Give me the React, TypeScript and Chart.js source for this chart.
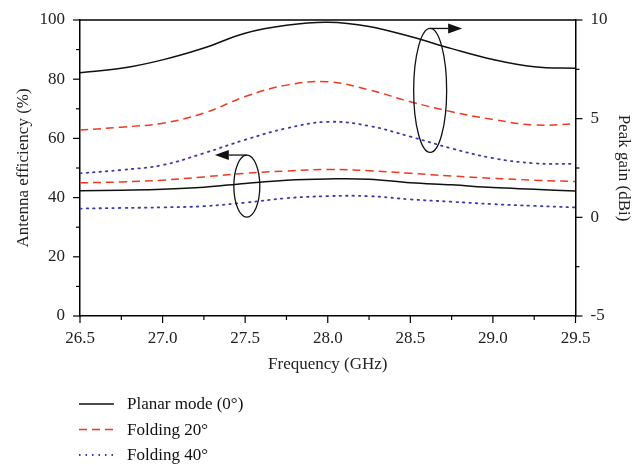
import React, { useEffect, useRef } from "react";
import { Chart, registerables } from "chart.js";

Chart.register(...registerables);

// ---- data ----
const frequencies = [26.5, 26.75, 27.0, 27.25, 27.5, 27.75, 28.0, 28.25, 28.5, 28.75, 29.0, 29.25, 29.5];
const effPlanar = [42.3, 42.5, 42.8, 43.5, 44.8, 45.9, 46.3, 46.2, 45.0, 44.3, 43.4, 42.8, 42.2];
const effFold20 = [45.0, 45.3, 45.9, 47.0, 48.2, 49.0, 49.5, 49.1, 48.2, 47.3, 46.5, 45.9, 45.4];
const effFold40 = [36.3, 36.5, 36.7, 37.1, 38.3, 39.8, 40.5, 40.5, 39.4, 38.6, 37.8, 37.2, 36.7];
const gainPlanar = [7.33, 7.55, 7.98, 8.58, 9.33, 9.73, 9.88, 9.67, 9.16, 8.55, 8.0, 7.63, 7.55];
const gainFold20 = [4.42, 4.57, 4.77, 5.28, 6.12, 6.7, 6.87, 6.46, 5.86, 5.35, 4.96, 4.68, 4.74];
const gainFold40 = [2.23, 2.4, 2.65, 3.25, 3.93, 4.51, 4.84, 4.63, 4.09, 3.49, 3.0, 2.74, 2.71];
const seriesLabels = ["Planar mode (0°)", "Folding 20°", "Folding 40°"];

const xTitle = "Frequency (GHz)";
const yTitle = "Antenna efficiency (%)";
const y1Title = "Peak gain (dBi)";

const FONT = "'Liberation Serif', 'DejaVu Serif', serif";
const COLORS = ["#111111", "#ee3a22", "#3a3aaa"];
const DASHES = [[], [8, 5], [1.5, 5]];

const toPts = (ys: number[]) => ys.map((y, i) => ({ x: frequencies[i], y }));

const isMult = (v: number, m: number) => Math.abs(v / m - Math.round(v / m)) < 1e-6;

const axisTicksPlugin = {
  id: "axisTicks",
  afterDraw(chart: any) {
    const ctx = chart.ctx;
    const ca = chart.chartArea;
    ctx.save();
    ctx.strokeStyle = "#000";
    // top border
    ctx.beginPath();
    ctx.moveTo(ca.left, ca.top);
    ctx.lineTo(ca.right, ca.top);
    ctx.lineWidth = 1.5;
    ctx.stroke();
    ctx.lineWidth = 1.2;
    const sx = chart.scales.x;
    sx.ticks.forEach((t: any) => {
      const px = sx.getPixelForValue(t.value);
      const len = isMult(t.value, 0.5) ? 7 : 4;
      ctx.beginPath();
      ctx.moveTo(px, ca.bottom);
      ctx.lineTo(px, ca.bottom + len);
      ctx.stroke();
    });
    const sy = chart.scales.y;
    sy.ticks.forEach((t: any) => {
      const py = sy.getPixelForValue(t.value);
      const len = isMult(t.value, 20) ? 7 : 4;
      ctx.beginPath();
      ctx.moveTo(ca.left, py);
      ctx.lineTo(ca.left - len, py);
      ctx.stroke();
    });
    const sy1 = chart.scales.y1;
    sy1.ticks.forEach((t: any) => {
      const py = sy1.getPixelForValue(t.value);
      const len = isMult(t.value, 5) ? 7 : 4;
      ctx.beginPath();
      ctx.moveTo(ca.right, py);
      ctx.lineTo(ca.right + len, py);
      ctx.stroke();
    });
    ctx.restore();
  },
};

// annotation: ellipses grouping curves, with arrows pointing to the relevant axis
const annotations = [
  { cx: 27.51, cy: 43.9, rx: 13, ry: 31, dir: -1 },
  { cx: 28.62, cy: 76.2, rx: 16.5, ry: 62, dir: 1 },
];

const annotationPlugin = {
  id: "groupEllipses",
  afterDatasetsDraw(chart: any) {
    const ctx = chart.ctx;
    const sx = chart.scales.x;
    const sy = chart.scales.y;
    ctx.save();
    ctx.strokeStyle = "#111";
    ctx.fillStyle = "#111";
    ctx.lineWidth = 1.3;
    annotations.forEach((a) => {
      const cx = sx.getPixelForValue(a.cx);
      const cy = sy.getPixelForValue(a.cy);
      ctx.beginPath();
      ctx.ellipse(cx, cy, a.rx, a.ry, 0, 0, Math.PI * 2);
      ctx.stroke();
      const topY = cy - a.ry;
      const lineEnd = cx + a.dir * 18;
      const tip = cx + a.dir * 32;
      ctx.beginPath();
      ctx.moveTo(cx, topY);
      ctx.lineTo(lineEnd, topY);
      ctx.stroke();
      ctx.beginPath();
      ctx.moveTo(tip, topY);
      ctx.lineTo(lineEnd, topY - 5);
      ctx.lineTo(lineEnd, topY + 5);
      ctx.closePath();
      ctx.fill();
    });
    ctx.restore();
  },
};

const legendPlugin = {
  id: "customLegend",
  afterDraw(chart: any) {
    const ctx = chart.ctx;
    ctx.save();
    ctx.font = `17px ${FONT}`;
    ctx.textBaseline = "middle";
    ctx.textAlign = "left";
    seriesLabels.forEach((label, i) => {
      const ds = chart.data.datasets[i];
      const y = 404 + i * 25.5;
      ctx.strokeStyle = ds.borderColor;
      ctx.lineWidth = ds.borderWidth;
      ctx.setLineDash(ds.borderDash || []);
      ctx.beginPath();
      ctx.moveTo(79, y);
      ctx.lineTo(114, y);
      ctx.stroke();
      ctx.setLineDash([]);
      ctx.fillStyle = "#111";
      ctx.fillText(label, 127, y + 1);
    });
    ctx.restore();
  },
};

export default function App() {
  const ref = useRef<HTMLCanvasElement | null>(null);
  useEffect(() => {
    if (!ref.current) return;
    const mk = (i: number, data: number[], axis: string) => ({
      label: seriesLabels[i] + (axis === "y1" ? " gain" : ""),
      data: toPts(data),
      yAxisID: axis,
      borderColor: COLORS[i],
      borderWidth: i === 2 ? 1.8 : 1.5,
      borderDash: DASHES[i],
      borderCapStyle: i === 2 ? "round" : "butt",
      pointRadius: 0,
      tension: 0.4,
      fill: false,
    });
    const tickFont = { family: FONT, size: 17 };
    const titleFont = { family: FONT, size: 17 };
    const fixVPad = (s: any) => {
      s.paddingTop = 8;
      s.paddingBottom = 8;
    };
    const chart = new Chart(ref.current, {
      type: "line",
      data: {
        datasets: [
          mk(0, effPlanar, "y"),
          mk(1, effFold20, "y"),
          mk(2, effFold40, "y"),
          mk(0, gainPlanar, "y1"),
          mk(1, gainFold20, "y1"),
          mk(2, gainFold40, "y1"),
        ] as any,
      },
      options: {
        animation: false,
        responsive: false,
        layout: { padding: { left: 0, right: 0, top: 20, bottom: 89 } },
        plugins: { legend: { display: false }, tooltip: { enabled: false } },
        scales: {
          x: {
            type: "linear",
            min: 26.5,
            max: 29.5,
            grid: { display: false, drawTicks: false },
            border: { display: true, color: "#000", width: 1.5 },
            ticks: {
              stepSize: 0.25,
              autoSkip: false,
              maxRotation: 0,
              padding: 12,
              color: "#222",
              font: tickFont,
              callback: (v: any) => (isMult(Number(v), 0.5) ? Number(v).toFixed(1) : ""),
            },
            title: { display: true, text: xTitle, color: "#222", font: titleFont, padding: { top: 0, bottom: 1 } },
            afterFit: (s: any) => {
              s.height = 60;
            },
          },
          y: {
            position: "left",
            min: 0,
            max: 100,
            grid: { display: false, drawTicks: false },
            border: { display: true, color: "#000", width: 1.5 },
            ticks: {
              stepSize: 10,
              autoSkip: false,
              padding: 15,
              color: "#222",
              font: tickFont,
              callback: (v: any) => (isMult(Number(v), 20) ? String(v) : ""),
            },
            title: { display: true, text: yTitle, color: "#222", font: titleFont, padding: { top: 13, bottom: 0 } },
            afterFit: (s: any) => {
              s.width = 80;
              fixVPad(s);
            },
          },
          y1: {
            position: "right",
            min: -5,
            max: 10,
            grid: { display: false, drawTicks: false },
            border: { display: true, color: "#000", width: 1.5 },
            ticks: {
              stepSize: 2.5,
              autoSkip: false,
              padding: 15,
              color: "#222",
              font: tickFont,
              callback: (v: any) => (isMult(Number(v), 5) ? String(v) : ""),
            },
            title: { display: true, text: y1Title, color: "#222", font: titleFont, padding: { top: 6, bottom: 0 } },
            afterFit: (s: any) => {
              s.width = 64.5;
              fixVPad(s);
            },
          },
        },
      } as any,
      plugins: [axisTicksPlugin, annotationPlugin, legendPlugin],
    });
    return () => chart.destroy();
  }, []);
  return (
    <div style={{ position: "absolute", left: 0, top: 0, width: 640, height: 465, background: "#fff" }}>
      <canvas ref={ref} width={640} height={465} />
    </div>
  );
}
